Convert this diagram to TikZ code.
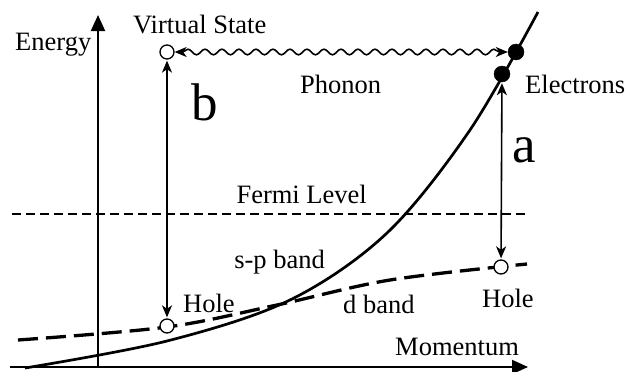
\documentclass[tikz,border=0pt]{standalone}
\usepackage{fontspec}
\setmainfont{Liberation Serif}
\usetikzlibrary{arrows.meta,decorations.pathmorphing}
\begin{document}
\begin{tikzpicture}[x=1pt,y=-1pt,
  lbl/.style={font=\fontsize{26.5}{30}\selectfont, inner sep=0pt},
  big/.style={font=\fontsize{53}{60}\selectfont, inner sep=0pt},
  hole/.style={circle, draw, fill=white, line width=1.3pt, minimum size=14pt, inner sep=0pt},
  elec/.style={circle, draw, fill=black, minimum size=16pt, inner sep=0pt},
  axis/.style={line width=2pt, -{Triangle[length=16pt,width=14pt]}},
  dbl/.style={line width=1.6pt, {Stealth[length=12pt,width=10pt,inset=3.5pt]}-{Stealth[length=12pt,width=10pt,inset=3.5pt]}, shorten <=1pt, shorten >=1pt},
  wave/.style={line width=1.6pt, {Stealth[length=12pt,width=10pt,inset=3.5pt]}-{Stealth[length=12pt,width=10pt,inset=3.5pt]}, decorate, decoration={snake, amplitude=2.8pt, segment length=17pt, pre length=8pt, post length=8pt}}
]
\useasboundingbox (0,0) rectangle (627,372);
% axes
\coordinate (xs) at (10,367);
\coordinate (xe) at (528,367);
\coordinate (ys) at (98,367);
\coordinate (ye) at (98,15);
\draw[axis] (xs) -- (xe);
\draw[axis] (ys) -- (ye);
% Fermi level
\draw[line width=2pt, dash pattern=on 9pt off 5pt] (12,214) -- (527,214);
% d band
\draw[line width=3.3pt, dash pattern=on 20pt off 8pt] plot[smooth, tension=0.55] coordinates {(18,340) (167,327) (277,305) (390,280) (527,264)};
% s-p band
\draw[line width=2.7pt] plot[smooth, tension=0.55] coordinates {(25,368) (167,341) (290,300) (387,233) (470,130) (538,12)};
% states
\node[hole] (vs) at (167,52) {};
\node[hole] (lh) at (167,326) {};
\node[hole] (rh) at (501,267) {};
\node[elec] (e1) at (516,52) {};
\node[elec] (e2) at (502,74) {};
% transitions
\draw[dbl] (vs) -- (lh);
\draw[dbl] (e2) -- (rh);
\draw[wave] (vs) -- (e1);
% labels
\node[lbl, anchor=base west] (tEnergy) at (15,50) {Energy};
\node[lbl, anchor=base west] (tVirtual) at (133,33) {Virtual State};
\node[lbl, anchor=base west] (tPhonon) at (300,93) {Phonon};
\node[big, anchor=base] (tb) at (205,120) {b};
\node[lbl, anchor=base west] (tElec) at (525,93) {Electrons};
\node[big, anchor=base] (ta) at (524,162) {a};
\node[lbl, anchor=base east] (tFermi) at (367,203) {Fermi Level};
\node[lbl, anchor=base east] (tsp) at (325,268) {s-p band};
\node[lbl, anchor=base west] (tHoleL) at (183,312) {Hole};
\node[lbl, anchor=base west] (tHoleR) at (482,307) {Hole};
\node[lbl, anchor=base west] (td) at (343,313) {d band};
\node[lbl, anchor=base west] (tMom) at (395,355) {Momentum};
\end{tikzpicture}
\end{document}
